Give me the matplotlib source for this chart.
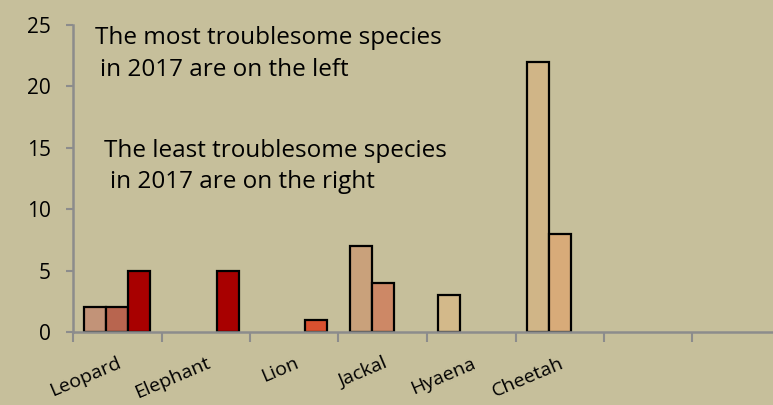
import numpy as np
import matplotlib.pyplot as plt

# categories (two trailing empty slots on the axis)
species = ['Leopard', 'Elephant', 'Lion', 'Jackal', 'Hyaena', 'Cheetah', '', '']
series_a = [2, 0, 0, 7, 3, 22, 0, 0]
series_b = [2, 0, 0, 4, 0, 8, 0, 0]
series_c = [5, 5, 1, 0, 0, 0, 0, 0]

# per-bar fill colours
colors_a = ['#c29378', '#c29378', '#c29378', '#c9a17b', '#d3b98a', '#d0b587', '#c29378', '#c29378']
colors_b = ['#b8654f', '#b8654f', '#b8654f', '#cd8866', '#d8ab79', '#d8ab79', '#b8654f', '#b8654f']
colors_c = ['#a80000', '#a80000', '#d9512f', '#a80000', '#a80000', '#a80000', '#a80000', '#a80000']

bg = '#c6bf9b'
axis_grey = '#8c8c8c'

fig = plt.figure(figsize=(7.73, 4.05), dpi=100, facecolor=bg)
ax = fig.add_axes([73 / 773, 73 / 405, 708 / 773, 307 / 405])
ax.set_facecolor(bg)

x = np.arange(len(species)) + 0.5
w = 0.25
for vals, cols, off in [(series_a, colors_a, -w), (series_b, colors_b, 0), (series_c, colors_c, w)]:
    for xi, v, c in zip(x, vals, cols):
        if v > 0:
            ax.bar(xi + off, v, width=w, color=c, edgecolor='black', linewidth=1.6, zorder=3)

ax.set_xlim(0, len(species))
ax.set_ylim(0, 25)
ax.set_yticks(range(0, 26, 5))

# boundaries as major ticks, labels on minor ticks at category centres
ax.set_xticks(range(len(species) + 1))
ax.set_xticklabels([])
ax.set_xticks(x, minor=True)
ax.set_xticklabels(species, minor=True, rotation=23, ha='right', va='top',
                   rotation_mode='anchor', fontsize=14, family='Open Sans')

ax.tick_params(axis='x', which='major', length=7, width=1.5, color=axis_grey)
ax.tick_params(axis='x', which='minor', length=0, pad=16)
ax.tick_params(axis='y', length=5, width=1.5, color=axis_grey, pad=11, labelsize=15)
for lab in ax.get_yticklabels():
    lab.set_family('Open Sans')

for s in ['top', 'right']:
    ax.spines[s].set_visible(False)
for s in ['left', 'bottom']:
    ax.spines[s].set_color(axis_grey)
    ax.spines[s].set_linewidth(1.8)
ax.spines['bottom'].set_zorder(4)

txt = dict(fontsize=17.5, family='Open Sans', color='black', ha='left', va='baseline')
ax.text(0.25, 23.45, 'The most troublesome species', **txt)
ax.text(0.305, 20.85, 'in 2017 are on the left', **txt)
ax.text(0.35, 14.25, 'The least troublesome species', **txt)
ax.text(0.42, 11.7, 'in 2017 are on the right', **txt)

fig.savefig('out.png', dpi=100, facecolor=bg)
